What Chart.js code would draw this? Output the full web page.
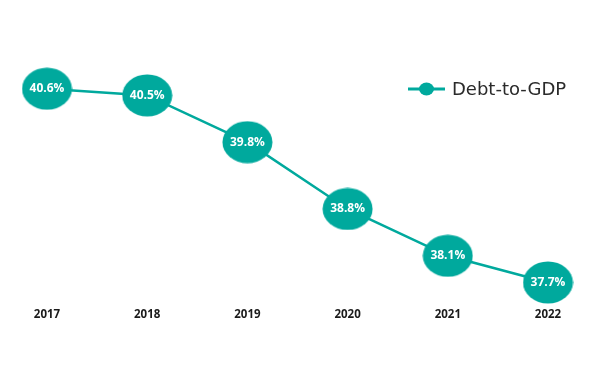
<!DOCTYPE html>
<html><head><meta charset="utf-8">
<script src="https://cdn.jsdelivr.net/npm/chart.js@4/dist/chart.umd.min.js"></script>
<style>html,body{margin:0;padding:0;background:#fff;}#wrap{width:594px;height:365px;}</style>
</head><body><div id="wrap"><canvas id="c" width="594" height="365"></canvas></div>
<script>
const categories = ['2017','2018','2019','2020','2021','2022'];
const debtToGdp = [40.6, 40.5, 39.8, 38.8, 38.1, 37.7];
const seriesName = 'Debt-to-GDP';
const TEAL = '#00A99D';

function ellipseCanvas(w, h, color) {
  const cv = document.createElement('canvas');
  cv.width = w; cv.height = h;
  const x = cv.getContext('2d');
  x.fillStyle = color;
  x.beginPath();
  x.ellipse(w/2, h/2, w/2 - 0.5, h/2 - 0.5, 0, 0, Math.PI*2);
  x.fill();
  return cv;
}
const pointImg = ellipseCanvas(51, 43, TEAL);

const labelPlugin = {
  id: 'valueLabels',
  afterDatasetsDraw(chart) {
    const ctx = chart.ctx;
    const meta = chart.getDatasetMeta(0);
    ctx.save();
    ctx.fillStyle = '#ffffff';
    ctx.font = 'bold 12px "Open Sans"';
    ctx.textAlign = 'center';
    ctx.textBaseline = 'middle';
    meta.data.forEach((pt, i) => {
      ctx.fillText(debtToGdp[i].toFixed(1) + '%', pt.x, pt.y);
    });
    ctx.restore();
  }
};

const legendPlugin = {
  id: 'customLegend',
  afterDraw(chart) {
    const ctx = chart.ctx;
    const ds = chart.data.datasets[0];
    const y = 89, x0 = 408;
    ctx.save();
    ctx.strokeStyle = ds.borderColor;
    ctx.lineWidth = 3;
    ctx.beginPath(); ctx.moveTo(x0, y); ctx.lineTo(x0 + 37, y); ctx.stroke();
    ctx.fillStyle = ds.borderColor;
    ctx.beginPath(); ctx.ellipse(x0 + 18.5, y, 7.5, 6.5, 0, 0, Math.PI*2); ctx.fill();
    ctx.fillStyle = '#2a2a2a';
    ctx.font = '18px "DejaVu Sans"';
    ctx.textAlign = 'left';
    ctx.textBaseline = 'middle';
    ctx.fillText(ds.label, x0 + 44, y + 1);
    ctx.restore();
  }
};

new Chart(document.getElementById('c'), {
  type: 'line',
  data: {
    labels: categories,
    datasets: [{
      label: seriesName,
      data: debtToGdp,
      borderColor: TEAL,
      backgroundColor: TEAL,
      borderWidth: 2.5,
      pointStyle: pointImg,
      clip: false,
      tension: 0
    }]
  },
  options: {
    responsive: false,
    animation: false,
    devicePixelRatio: 1,
    layout: { padding: { left: 47, right: 46, top: 62, bottom: 34 } },
    plugins: { legend: { display: false }, tooltip: { enabled: false } },
    scales: {
      x: {
        offset: false,
        grid: { display: false, drawTicks: false },
        border: { display: false },
        ticks: { color: '#1a1a1a', font: { family: 'Open Sans', weight: 'bold', size: 11.5 }, padding: 9, maxRotation: 0 }
      },
      y: { display: false, min: 37.45, max: 41.0 }
    }
  },
  plugins: [labelPlugin, legendPlugin]
});
</script></body></html>
